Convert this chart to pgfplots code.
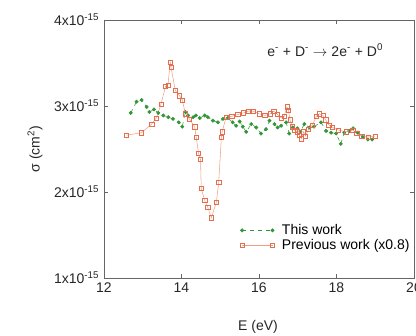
\documentclass[border=0pt]{standalone}
\usepackage{fontspec}
\setmainfont{Liberation Sans}
\usepackage{pgfplots}
\pgfplotsset{compat=1.18}
\definecolor{grn}{RGB}{50,150,55}
\definecolor{orgline}{RGB}{240,160,130}
\definecolor{orgmark}{RGB}{228,110,80}
\begin{document}
\begin{tikzpicture}
\begin{axis}[
  name=ax,
  scale only axis,
  width=232.5pt, height=193.5pt,
  xmin=12, xmax=20, ymin=1, ymax=4,
  xtick={12,14,16,18,20},
  ytick={1,2,3,4},
  yticklabels={1x10\textsuperscript{-15},2x10\textsuperscript{-15},3x10\textsuperscript{-15},4x10\textsuperscript{-15}},
  /pgf/number format/assume math mode=true,
  tick label style={font=\fontsize{10.5}{12}\selectfont, text=black!85},
  axis line style={black!60, line width=0.6pt},
  tick style={black!60},
  major tick length=3pt,
  tick align=inside,
  xlabel={E (eV)},
  ylabel={σ (cm\textsuperscript{2})},
  label style={font=\fontsize{10.5}{12}\selectfont, text=black!85},
  xlabel style={at={(axis description cs:0.497,-0.19)}, anchor=center},
  ylabel style={at={(axis description cs:-0.2226,0.5)}, anchor=center, rotate=0},
  legend style={at={(axis description cs:0.425,0.235)}, anchor=north west, draw=none, fill=none,
     font=\fontsize{10.5}{12}\selectfont, row sep=-2pt, inner xsep=3pt, inner ysep=3pt,
     text=black, nodes={inner xsep=5.5pt}},
  legend cell align=left,
  legend image code/.code={\draw[#1, mark repeat=1] plot coordinates {(0cm,0cm) (0.8cm,0cm)};},
  clip=false,
]
\addplot[color=grn, thin, dashed, mark=*, mark size=1.25pt, mark options={solid, fill=grn, draw=grn}] coordinates {
(12.69,2.92) (12.84,3.05) (12.97,3.07) (13.10,2.99) (13.17,2.93) (13.29,2.96) (13.40,2.92)
(13.53,2.89) (13.66,2.87) (13.78,2.85) (13.93,2.81) (14.02,2.76) (14.10,2.93) (14.17,2.89)
(14.30,2.87) (14.37,2.89) (14.47,2.86) (14.60,2.89) (14.68,2.87) (14.81,2.83) (14.94,2.81)
(15.07,2.85) (15.20,2.86) (15.32,2.81) (15.41,2.77) (15.50,2.82) (15.58,2.76) (15.67,2.70)
(15.80,2.79) (15.93,2.75) (16.05,2.68) (16.18,2.73) (16.27,2.83) (16.40,2.79) (16.48,2.75)
(16.57,2.77) (16.70,2.81) (16.78,2.68) (16.87,2.75) (16.99,2.74) (17.07,2.70) (17.17,2.79)
(17.30,2.75) (17.42,2.76) (17.60,2.81) (17.73,2.71) (17.86,2.69) (17.99,2.68) (18.11,2.56)
(18.20,2.69) (18.33,2.71) (18.43,2.74) (18.55,2.69) (18.68,2.64) (18.81,2.61) (18.92,2.61)
};
\addlegendentry{This work}
\addplot[color=orgline, thin, mark=square, mark size=1.6pt, mark options={solid, draw=orgmark}] coordinates {
(12.58,2.66) (12.97,2.69) (13.23,2.79) (13.35,2.86) (13.47,3.02) (13.59,3.23) (13.65,3.24)
(13.71,3.51) (13.73,3.45) (13.84,3.18) (13.95,3.12) (14.02,3.07) (14.10,2.91) (14.20,2.85)
(14.34,2.76) (14.38,2.64) (14.44,2.45) (14.49,2.38) (14.51,2.04) (14.60,1.90) (14.68,1.82)
(14.77,1.70) (14.90,1.88) (14.96,2.11) (15.03,2.64) (15.05,2.70) (15.15,2.87) (15.30,2.88)
(15.45,2.90) (15.60,2.92) (15.72,2.94) (15.85,2.94) (16.00,2.91) (16.15,2.89) (16.30,2.91)
(16.38,2.94) (16.48,2.90) (16.58,2.86) (16.65,2.88) (16.72,2.99) (16.76,2.95) (16.80,2.84)
(16.86,2.76) (16.92,2.72) (16.98,2.70) (17.04,2.66) (17.10,2.62) (17.15,2.70) (17.20,2.65)
(17.28,2.73) (17.38,2.78) (17.48,2.88) (17.56,2.91) (17.65,2.89) (17.72,2.84) (17.80,2.78)
(17.90,2.75) (18.05,2.72) (18.25,2.70) (18.42,2.72) (18.52,2.68) (18.65,2.65) (18.82,2.64)
(19.00,2.65)
};
\addlegendentry{Previous work (x0.8)}
\node[font=\fontsize{10.5}{12}\selectfont, text=black!85] at (axis cs:17.71,3.65)
  {e\textsuperscript{-} + D\textsuperscript{-} $\rightarrow$ 2e\textsuperscript{-} + D\textsuperscript{0}};
\end{axis}
\pgfresetboundingbox
\path ([shift={(-78pt,-42.75pt)}]ax.south west) rectangle ([shift={(1.5pt,15pt)}]ax.north east);
\end{tikzpicture}
\end{document}
